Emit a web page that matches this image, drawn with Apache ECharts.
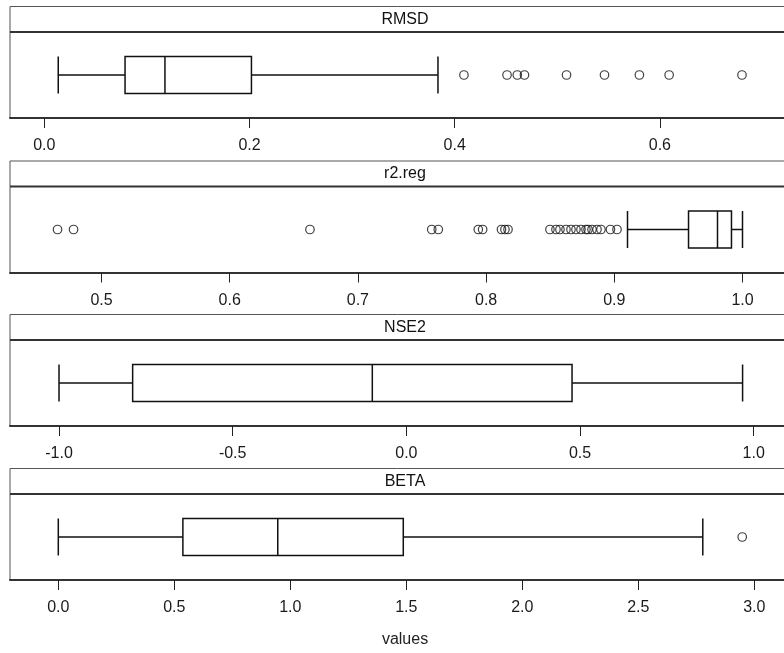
<!DOCTYPE html>
<html>
<head>
<meta charset="utf-8">
<script src="https://cdn.jsdelivr.net/npm/echarts@6/dist/echarts.min.js"></script>
<style>
  html, body { margin: 0; padding: 0; background: #fff; }
  #chart { width: 784px; height: 653px; }
</style>
</head>
<body>
<div id="chart"></div>
<script>
// Panel titles (strip labels)
const panelNames = ['RMSD', 'r2.reg', 'NSE2', 'BETA'];

// Box summaries: [lower whisker, Q1, median, Q3, upper whisker]
const rmsdBox = [0.0136, 0.0787, 0.1176, 0.2019, 0.3837];
const r2Box   = [0.9103, 0.9579, 0.9805, 0.9914, 1.0];
const nseBox  = [-1.0, -0.788, -0.098, 0.477, 0.968];
const betaBox = [0.0, 0.537, 0.946, 1.487, 2.778];

// Points beyond the whiskers
const rmsdOutliers = [0.409, 0.451, 0.461, 0.468, 0.509, 0.546, 0.580, 0.609, 0.680];
const r2Outliers = [
  0.4657, 0.4782, 0.6626, 0.7576, 0.7627, 0.7939, 0.7973, 0.8120, 0.8147, 0.8171,
  0.8498, 0.8545, 0.8576, 0.8623, 0.8662, 0.8701, 0.8740, 0.8779, 0.8795, 0.8826,
  0.8865, 0.8896, 0.8970, 0.9021
];
const nseOutliers = [];
const betaOutliers = [2.948];

// Tick values for each panel's axis
const rmsdTicks = [0.0, 0.2, 0.4, 0.6];
const r2Ticks   = [0.5, 0.6, 0.7, 0.8, 0.9, 1.0];
const nseTicks  = [-1.0, -0.5, 0.0, 0.5, 1.0];
const betaTicks = [0.0, 0.5, 1.0, 1.5, 2.0, 2.5, 3.0];

const boxes = [rmsdBox, r2Box, nseBox, betaBox];
const outliers = [rmsdOutliers, r2Outliers, nseOutliers, betaOutliers];
const ticks = [rmsdTicks, r2Ticks, nseTicks, betaTicks];

// Visible axis extents per panel (panels continue past the right page edge)
const axisRanges = [
  [-0.03343, 0.72096],
  [0.42863, 1.03237],
  [-1.1411, 1.08723],
  [-0.2082, 3.12802]
];

const FONT = '"Liberation Sans", Arial, sans-serif';
const PANEL_LEFT = 10;
const PANEL_FULL_W = 790;   // full panel width, wider than the page
const STRIP_H = 25.5;
const BODY_H = 86;
const bodyTops = [32, 186.5, 340, 494];

const grids = [], xAxes = [], yAxes = [], series = [], graphics = [];

panelNames.forEach(function (name, i) {
  const top = bodyTops[i];
  grids.push({
    left: PANEL_LEFT, top: top, right: 0, height: BODY_H, show: false
  });
  xAxes.push({
    type: 'value', gridIndex: i,
    min: axisRanges[i][0], max: axisRanges[i][1],
    axisLine: { show: true, onZero: false, lineStyle: { color: '#333', width: 2 } },
    axisTick: { show: true, length: 10, customValues: ticks[i], lineStyle: { color: '#222', width: 1 } },
    axisLabel: {
      show: true, customValues: ticks[i], margin: 20,
      fontFamily: FONT, fontSize: 16, color: '#1a1a1a',
      formatter: function (v) { return v.toFixed(1); }
    },
    splitLine: { show: false }
  });
  yAxes.push({
    type: 'category', gridIndex: i, data: [name],
    axisLine: { show: false }, axisTick: { show: false }, axisLabel: { show: false },
    splitLine: { show: false }
  });
  series.push({
    type: 'boxplot', xAxisIndex: i, yAxisIndex: i,
    data: [boxes[i]],
    boxWidth: [37, 37],
    itemStyle: { color: '#fff', borderColor: '#111', borderWidth: 1.5 },
    emphasis: { disabled: true }
  });
  series.push({
    type: 'scatter', xAxisIndex: i, yAxisIndex: i,
    data: outliers[i].map(function (v) { return [v, 0]; }),
    symbol: 'circle', symbolSize: 8.5,
    itemStyle: { color: 'rgba(255,255,255,0)', borderColor: '#111', borderWidth: 1.2 },
    emphasis: { disabled: true }
  });
  // panel outline
  graphics.push({
    type: 'rect', silent: true, z: -10,
    shape: { x: PANEL_LEFT, y: top, width: PANEL_FULL_W, height: BODY_H },
    style: { fill: 'none', stroke: '#555', lineWidth: 1 }
  });
  // strip box with the panel title
  graphics.push({
    type: 'rect', silent: true,
    shape: { x: PANEL_LEFT, y: top - STRIP_H, width: PANEL_FULL_W, height: STRIP_H },
    style: { fill: '#fff', stroke: '#555', lineWidth: 1 }
  });
  graphics.push({
    type: 'line', silent: true,
    shape: { x1: PANEL_LEFT, y1: top, x2: PANEL_LEFT + PANEL_FULL_W, y2: top },
    style: { stroke: '#333', lineWidth: 2 }
  });
  graphics.push({
    type: 'text', silent: true,
    x: PANEL_LEFT + PANEL_FULL_W / 2, y: top - STRIP_H / 2,
    style: { text: name, fontFamily: FONT, fontSize: 16, fill: '#111', align: 'center', verticalAlign: 'middle' }
  });
});

graphics.push({
  type: 'text', silent: true,
  x: PANEL_LEFT + PANEL_FULL_W / 2, y: 640,
  style: { text: 'values', fontFamily: FONT, fontSize: 16, fill: '#222', align: 'center', verticalAlign: 'middle' }
});

const chart = echarts.init(document.getElementById('chart'), null, { renderer: 'canvas' });
chart.setOption({
  animation: false,
  backgroundColor: '#fff',
  grid: grids,
  xAxis: xAxes,
  yAxis: yAxes,
  series: series,
  graphic: graphics
});
</script>
</body>
</html>
